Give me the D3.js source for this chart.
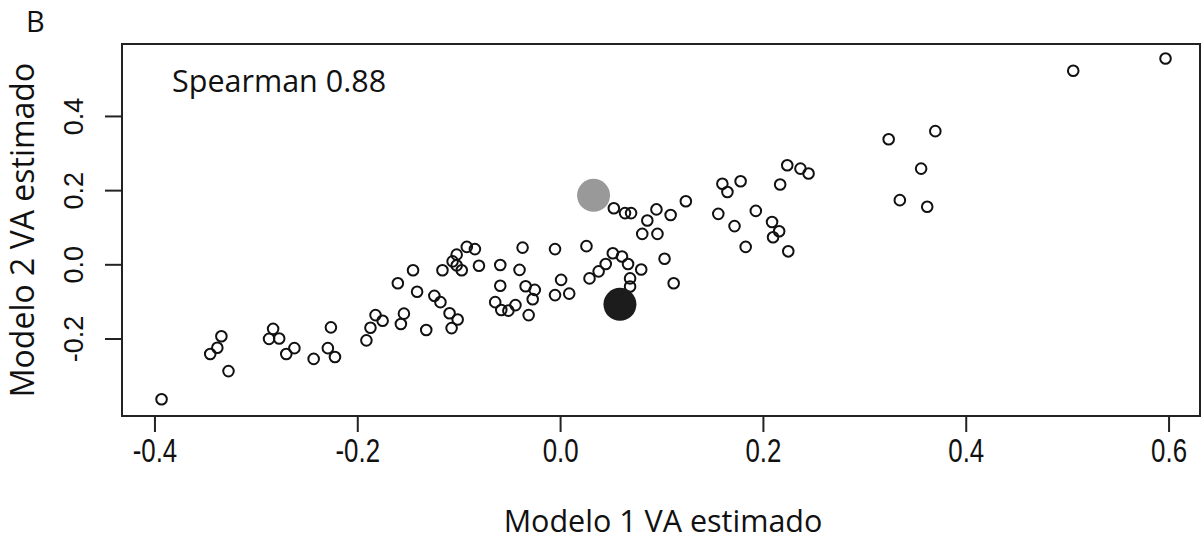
<!DOCTYPE html>
<html>
<head>
<meta charset="utf-8">
<script src="https://cdn.jsdelivr.net/npm/d3@7"></script>
<style>
  html, body { margin: 0; padding: 0; background: #fff; }
  svg { display: block; }
</style>
</head>
<body>
<svg id="chart" width="1204" height="544"></svg>
<script>
// ---- Data ----
const modelo1 = [
  -0.393, -0.345, -0.338, -0.334, -0.327, -0.287, -0.283, -0.277, -0.270, -0.262,
  -0.243, -0.229, -0.226, -0.222, -0.191, -0.187, -0.182, -0.175, -0.160, -0.145,
  -0.141, -0.154, -0.157, -0.132, -0.124, -0.118, -0.116, -0.109, -0.101, -0.107,
  -0.106, -0.102, -0.102, -0.097, -0.092, -0.084, -0.080, -0.059, -0.059, -0.040,
  -0.037, -0.034, -0.025, -0.027, -0.064, -0.058, -0.051, -0.044, -0.031, -0.005,
   0.001, -0.005,  0.009,  0.026,  0.029,  0.038,  0.045,  0.052,  0.061,  0.067,
   0.069,  0.069,  0.080,  0.081,  0.096,  0.086,  0.095,  0.109,  0.053,  0.064,
   0.070,  0.103,  0.112,  0.124,  0.156,  0.160,  0.165,  0.178,  0.172,  0.193,
   0.183,  0.209,  0.216,  0.210,  0.225,  0.217,  0.224,  0.237,  0.245,  0.324,
   0.370,  0.356,  0.335,  0.362,  0.506,  0.597
];
const modelo2 = [
  -0.364, -0.242, -0.225, -0.194, -0.288, -0.201, -0.174, -0.200, -0.242, -0.226,
  -0.255, -0.226, -0.170, -0.250, -0.205, -0.171, -0.137, -0.152, -0.051, -0.016,
  -0.074, -0.133, -0.161, -0.177, -0.085, -0.102, -0.016, -0.132, -0.149, -0.172,
   0.008,  0.026, -0.003, -0.016,  0.047,  0.041, -0.004, -0.002, -0.058, -0.015,
   0.045, -0.059, -0.069, -0.094, -0.102, -0.123, -0.125, -0.110, -0.137,  0.041,
  -0.042, -0.083, -0.079,  0.049, -0.038, -0.019,  0.001,  0.030,  0.021,  0.001,
  -0.038, -0.060, -0.014,  0.082,  0.082,  0.118,  0.148,  0.133,  0.151,  0.138,
   0.138,  0.015, -0.051,  0.170,  0.136,  0.217,  0.195,  0.224,  0.103,  0.144,
   0.047,  0.114,  0.089,  0.073,  0.035,  0.215,  0.267,  0.258,  0.245,  0.337,
   0.359,  0.258,  0.173,  0.155,  0.522,  0.555
];
// highlighted units
const highlightX = [0.033, 0.059];
const highlightY = [0.186, -0.108];
const highlightColor = ["#999999", "#1c1c1c"];

const xTicks = [-0.4, -0.2, 0.0, 0.2, 0.4, 0.6];
const yTicks = [-0.2, 0.0, 0.2, 0.4];
const xTitle = "Modelo 1 VA estimado";
const yTitle = "Modelo 2 VA estimado";
const annotation = "Spearman 0.88";
const panelLabel = "B";

// ---- Layout ----
const L = 122, R = 1200, T = 44, B = 416;
const svg = d3.select("#chart");

const x = d3.scaleLinear().domain([-0.432, 0.631]).range([L, R]);
const y = d3.scaleLinear().domain([-0.409, 0.594]).range([B, T]);

// points
const pts = modelo1.map((v, i) => ({x: v, y: modelo2[i]}));
svg.append("g").selectAll("circle").data(pts).join("circle")
  .attr("cx", d => x(d.x))
  .attr("cy", d => y(d.y))
  .attr("r", 5.3)
  .attr("fill", "none")
  .attr("stroke", "#111")
  .attr("stroke-width", 2);

const hl = highlightX.map((v, i) => ({x: v, y: highlightY[i], c: highlightColor[i]}));
svg.append("g").selectAll("circle").data(hl).join("circle")
  .attr("cx", d => x(d.x))
  .attr("cy", d => y(d.y))
  .attr("r", 16.5)
  .attr("fill", d => d.c);

// box
svg.append("rect")
  .attr("x", L).attr("y", T)
  .attr("width", R - L).attr("height", B - T)
  .attr("fill", "none").attr("stroke", "#222").attr("stroke-width", 2);

// x axis
const fmt = d => d3.format(".1f")(d).replace("−", "-");
const xAxis = d3.axisBottom(x).tickValues(xTicks).tickSize(16).tickPadding(8)
  .tickFormat(fmt);
const gx = svg.append("g").attr("transform", `translate(0,${B})`).call(xAxis);
gx.select(".domain").attr("d", `M${x(xTicks[0])},0H${x(xTicks[xTicks.length-1])}`)
  .attr("stroke", "#222").attr("stroke-width", 2);
gx.selectAll(".tick line").attr("stroke", "#222").attr("stroke-width", 2);
gx.selectAll(".tick text")
  .attr("font-family", "'Liberation Sans', Arial, sans-serif")
  .attr("font-size", 34).attr("fill", "#111")
  .attr("y", 46).attr("dy", "0")
  .attr("transform", "scale(0.76,1)");

// y axis
const yAxis = d3.axisLeft(y).tickValues(yTicks).tickSize(17).tickPadding(0)
  .tickFormat(fmt);
const gy = svg.append("g").attr("transform", `translate(${L},0)`).call(yAxis);
gy.select(".domain").attr("d", `M0,${y(yTicks[0])}V${y(yTicks[yTicks.length-1])}`)
  .attr("stroke", "#222").attr("stroke-width", 2);
gy.selectAll(".tick line").attr("stroke", "#222").attr("stroke-width", 2);
gy.selectAll(".tick text")
  .attr("font-family", "'Liberation Sans', Arial, sans-serif")
  .attr("font-size", 27).attr("fill", "#111")
  .attr("x", null)
  .attr("text-anchor", "middle")
  .attr("transform", "translate(-48,0) rotate(-90)")
  .attr("dy", "0.35em");

// titles
svg.append("text")
  .attr("x", 663).attr("y", 532)
  .attr("text-anchor", "middle")
  .attr("font-family", "'Open Sans', sans-serif")
  .attr("font-size", 30.5).attr("fill", "#111")
  .text(xTitle);

svg.append("text")
  .attr("transform", `translate(34,230) rotate(-90)`)
  .attr("text-anchor", "middle")
  .attr("font-family", "'Open Sans', sans-serif")
  .attr("font-size", 32).attr("fill", "#111")
  .text(yTitle);

svg.append("text")
  .attr("x", 172).attr("y", 92)
  .attr("font-family", "'Open Sans', sans-serif")
  .attr("font-size", 30.5).attr("fill", "#111")
  .text(annotation);

svg.append("text")
  .attr("x", 26).attr("y", 32)
  .attr("font-family", "'Open Sans', sans-serif")
  .attr("font-size", 29).attr("fill", "#111")
  .text(panelLabel);
</script>
</body>
</html>
